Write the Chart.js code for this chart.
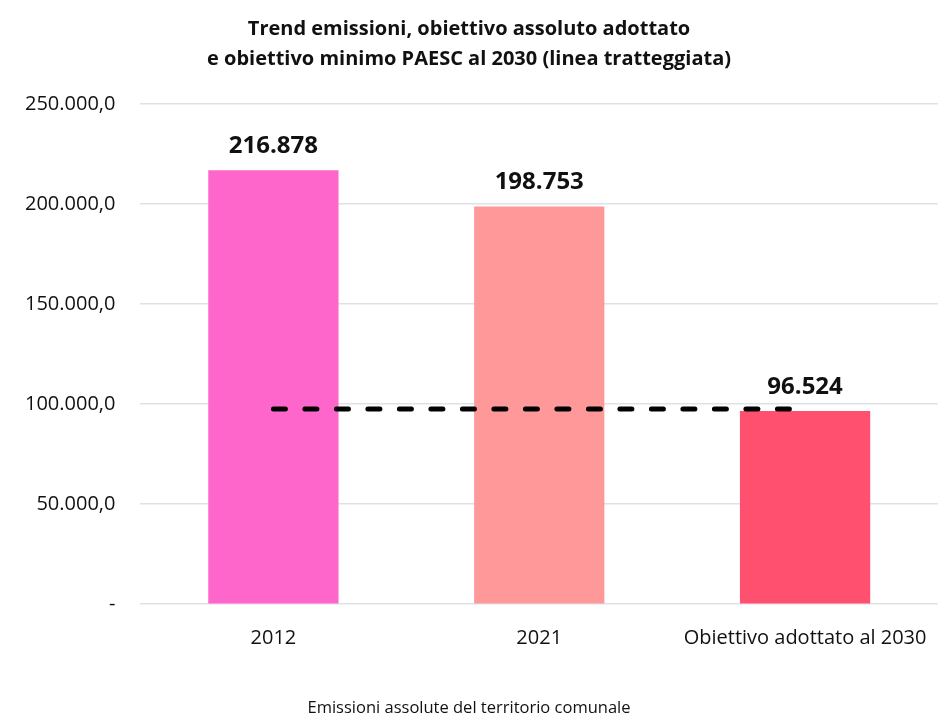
<!DOCTYPE html>
<html>
<head>
<meta charset="utf-8">
<script src="https://cdn.jsdelivr.net/npm/chart.js@4/dist/chart.umd.min.js"></script>
<style>
  html, body { margin: 0; padding: 0; background: #fff; }
  #wrap { width: 952px; height: 720px; position: relative; }
</style>
</head>
<body>
<div id="wrap"><canvas id="chart"></canvas></div>
<script>
// data
var categories = ['2012', '2021', 'Obiettivo adottato al 2030'];
var emissions = [216878, 198753, 96524];
var paescMin = [97600, 97600, 97600];
var barColors = ['#FF66CC', '#FF9999', '#FF5070'];
var yTicks = [0, 50000, 100000, 150000, 200000, 250000];

function fmtTick(v) {
    if (v === 0) return '-';
    return v.toLocaleString('it-IT', { minimumFractionDigits: 1, maximumFractionDigits: 1 });
}

// value labels above the bars
var barLabels = {
    id: 'barLabels',
    afterDatasetsDraw: function (chart) {
        var ctx = chart.ctx;
        var meta = chart.getDatasetMeta(1);
        ctx.save();
        ctx.font = 'bold 24px "Open Sans"';
        ctx.fillStyle = '#111';
        ctx.textAlign = 'center';
        ctx.textBaseline = 'bottom';
        meta.data.forEach(function (bar, i) {
            ctx.fillText(emissions[i].toLocaleString('it-IT'), bar.x, bar.y - 12);
        });
        ctx.restore();
    }
};

var ctx = document.getElementById('chart').getContext('2d');
var chart = new Chart(ctx, {
    data: {
        labels: categories,
        datasets: [{
            type: 'line',
            label: 'Obiettivo minimo PAESC',
            data: paescMin,
            borderColor: '#000',
            borderWidth: 5,
            borderDash: [12, 19.5],
            borderCapStyle: 'round',
            pointRadius: 0,
            fill: false,
            order: 0
        }, {
            type: 'bar',
            label: 'Emissioni assolute del territorio comunale',
            data: emissions,
            backgroundColor: barColors,
            categoryPercentage: 1,
            barPercentage: 0.49,
            order: 1
        }]
    },
    options: {
        responsive: true,
        maintainAspectRatio: false,
        animation: false,
        layout: { padding: { left: 0, right: 14, top: 0, bottom: 2 } },
        plugins: {
            legend: { display: false },
            tooltip: { enabled: false },
            title: {
                display: true,
                text: ['Trend emissioni, obiettivo assoluto adottato', 'e obiettivo minimo PAESC al 2030 (linea tratteggiata)'],
                color: '#111',
                font: { family: 'Open Sans', size: 20, weight: 'bold', lineHeight: 1.5 },
                padding: { top: 14, bottom: 30 }
            },
            subtitle: {
                display: true,
                position: 'bottom',
                text: 'Emissioni assolute del territorio comunale',
                color: '#111',
                font: { family: 'Open Sans', size: 16.5 },
                padding: { top: 34, bottom: 0 }
            }
        },
        scales: {
            x: {
                grid: { display: false },
                border: { display: false },
                ticks: {
                    color: '#111',
                    font: { family: 'Open Sans', size: 20 },
                    maxRotation: 0,
                    padding: 14
                }
            },
            y: {
                min: 0,
                max: 250000,
                afterBuildTicks: function (axis) {
                    axis.ticks = yTicks.map(function (v) { return { value: v }; });
                },
                grid: { color: '#dde2e8', lineWidth: 1.5, drawTicks: false },
                border: { display: false },
                ticks: {
                    color: '#111',
                    font: { family: 'Open Sans', size: 20 },
                    padding: 25,
                    callback: function (v) { return fmtTick(v); }
                }
            }
        }
    },
    plugins: [barLabels]
});
</script>
</body>
</html>
